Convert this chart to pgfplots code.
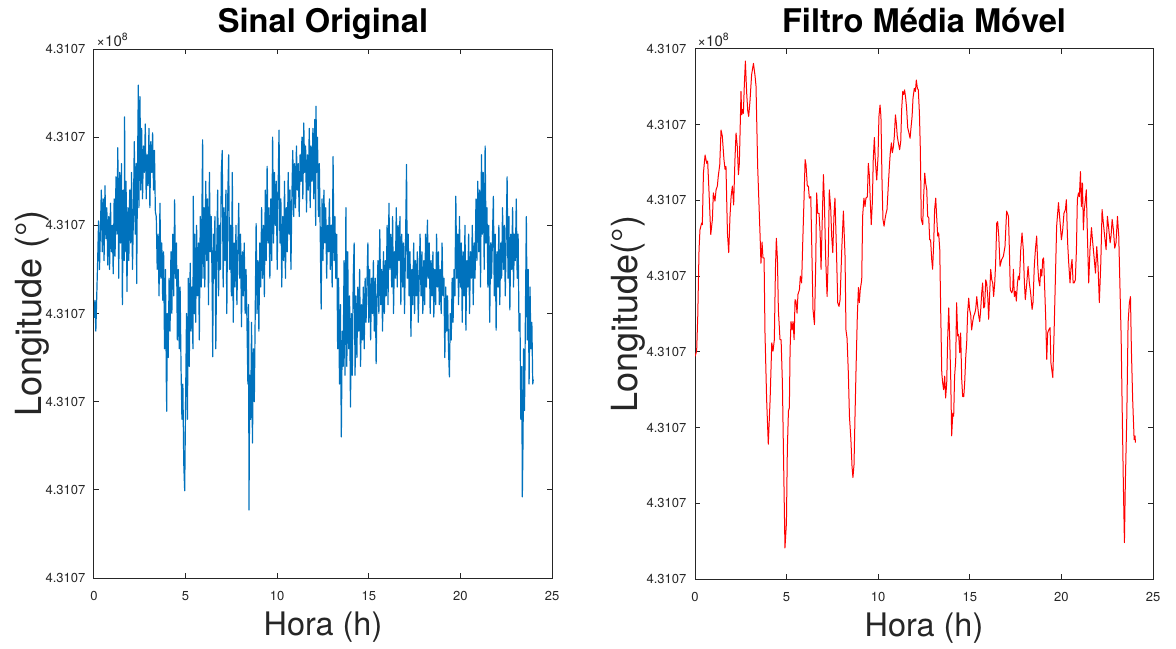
\documentclass[border=0pt]{standalone}
\usepackage{fontspec}
\setmainfont{TeX Gyre Heros}
\usepackage{pgfplots}
\pgfplotsset{compat=1.18}
\definecolor{mblue}{HTML}{0072BD}
\definecolor{axgray}{HTML}{262626}

\pgfplotsset{
  mlab/.style={
    scale only axis, width=229pt, height=264.5pt,
    xmin=0, xmax=25, xtick={0,5,10,15,20,25},
    xticklabels={0,5,10,15,20,25},
    axis line style={axgray, line width=0.5pt},
    every tick/.style={axgray, line width=0.5pt},
    major tick length=2.5pt, tick align=inside,
    tick label style={font=\fontsize{6.5}{7.5}\selectfont, text=axgray},
    xticklabel style={yshift=-3.3pt},
    yticklabel style={xshift=-0.8pt},
    xlabel style={font=\fontsize{16.2}{19}\selectfont, text=axgray,
      at={(axis description cs:0.5,-0.093)}, anchor=center},
    ylabel style={font=\fontsize{18}{21}\selectfont, text=axgray, anchor=center},
  }
}

\begin{document}
\begin{tikzpicture}
\path[use as bounding box] (-47pt,-35pt) rectangle (541pt,289pt);

% sinal original
\begin{axis}[mlab, name=left, at={(0pt,0pt)}, anchor=south west,
  ymin=0, ymax=6, ytick={0,1,2,3,4,5,6},
  yticklabels={4.3107,4.3107,4.3107,4.3107,4.3107,4.3107,4.3107},
  xlabel={Hora (h)}, ylabel={Longitude (°)},
  ylabel style={at={(axis description cs:-0.135,0.5)}},
]
\addplot[mblue, line width=0.6pt, line join=round] coordinates {
(0.00,2.95) (0.05,3.15) (0.10,2.80) (0.15,3.20) (0.20,3.60) (0.25,4.05) (0.30,3.50) (0.35,3.95)
(0.40,4.40) (0.45,3.70) (0.50,4.30) (0.55,3.60) (0.60,4.45) (0.65,3.85) (0.70,4.20) (0.75,3.55)
(0.80,4.10) (0.85,3.50) (0.90,4.25) (0.95,3.70) (1.00,4.00) (1.05,3.45) (1.10,4.30) (1.15,3.65)
(1.20,4.55) (1.25,3.90) (1.30,4.88) (1.35,3.40) (1.40,4.60) (1.45,3.80) (1.50,4.70) (1.55,3.10)
(1.60,4.40) (1.65,3.60) (1.67,5.23) (1.70,3.70) (1.75,4.50) (1.80,3.25) (1.85,4.20) (1.90,3.60)
(1.95,4.40) (2.00,3.80) (2.05,4.60) (2.10,3.50) (2.15,4.10) (2.20,4.95) (2.25,3.90) (2.30,4.70)
(2.33,3.34) (2.37,4.50) (2.42,5.59) (2.45,4.20) (2.51,5.46) (2.55,4.40) (2.60,5.10) (2.65,4.30)
(2.70,4.90) (2.75,4.60) (2.80,5.15) (2.85,4.30) (2.90,4.80) (2.95,4.45) (3.00,5.10) (3.05,4.20)
(3.10,4.95) (3.15,4.60) (3.20,5.05) (3.25,4.40) (3.30,4.85) (3.35,4.15) (3.40,4.10) (3.45,3.50)
(3.50,3.90) (3.55,3.20) (3.60,4.25) (3.65,3.40) (3.70,3.80) (3.75,3.15) (3.80,3.70) (3.85,2.60)
(3.90,3.50) (3.95,2.20) (3.97,1.89) (4.00,3.00) (4.05,2.50) (4.10,3.40) (4.15,2.80) (4.20,3.70)
(4.25,3.00) (4.30,3.90) (4.35,3.20) (4.40,4.29) (4.45,3.40) (4.50,3.80) (4.55,2.70) (4.60,3.50)
(4.65,2.60) (4.70,3.30) (4.75,2.40) (4.80,1.80) (4.85,2.20) (4.90,1.30) (4.95,0.99) (5.00,2.00)
(5.05,3.00) (5.10,1.80) (5.15,3.40) (5.20,2.40) (5.25,3.57) (5.30,2.80) (5.35,3.30) (5.40,2.60)
(5.42,4.33) (5.47,3.00) (5.50,3.90) (5.55,2.90) (5.60,4.00) (5.65,3.20) (5.70,3.80) (5.75,2.70)
(5.80,4.10) (5.85,3.30) (5.93,4.97) (5.95,3.40) (6.00,4.20) (6.05,3.30) (6.10,4.50) (6.15,3.60)
(6.20,4.30) (6.25,3.10) (6.30,4.60) (6.35,3.70) (6.40,4.10) (6.45,3.30) (6.48,2.51) (6.52,3.90)
(6.55,3.40) (6.60,4.10) (6.65,2.60) (6.70,3.70) (6.75,4.40) (6.80,3.20) (6.85,4.00) (6.90,3.50)
(6.95,4.60) (7.00,4.85) (7.05,3.30) (7.10,4.20) (7.15,3.60) (7.20,4.40) (7.25,3.00) (7.30,4.30)
(7.35,4.80) (7.40,3.50) (7.45,4.00) (7.50,3.20) (7.55,4.60) (7.60,2.90) (7.65,3.80) (7.70,3.30)
(7.75,4.00) (7.80,3.10) (7.85,3.70) (7.90,4.25) (7.95,3.40) (8.00,3.90) (8.05,2.85) (8.10,3.70)
(8.15,3.20) (8.20,3.80) (8.25,3.00) (8.30,3.50) (8.35,2.90) (8.40,2.20) (8.44,3.10) (8.46,0.77)
(8.50,2.30) (8.55,1.80) (8.60,2.90) (8.65,1.53) (8.70,2.60) (8.75,2.00) (8.80,3.00) (8.85,4.02)
(8.90,3.00) (8.95,3.60) (9.00,2.80) (9.05,3.80) (9.10,3.30) (9.15,4.20) (9.20,3.40) (9.25,4.00)
(9.30,3.19) (9.35,4.40) (9.40,3.60) (9.45,4.67) (9.50,3.80) (9.55,4.20) (9.60,3.40) (9.65,4.30)
(9.70,3.60) (9.75,5.00) (9.80,3.80) (9.85,4.60) (9.90,4.00) (9.95,4.50) (10.00,3.50) (10.05,4.40)
(10.10,5.08) (10.15,3.80) (10.20,4.30) (10.25,3.30) (10.30,4.10) (10.35,3.60) (10.40,4.50) (10.45,3.40)
(10.50,4.20) (10.55,3.70) (10.60,4.60) (10.65,3.90) (10.70,4.40) (10.75,3.50) (10.80,4.30) (10.85,4.85)
(10.90,4.10) (10.95,4.70) (11.00,4.20) (11.05,4.90) (11.10,4.40) (11.15,4.70) (11.20,4.10) (11.25,4.80)
(11.30,4.50) (11.35,5.00) (11.40,4.30) (11.45,5.16) (11.50,4.60) (11.55,4.90) (11.60,4.15) (11.65,4.80)
(11.70,4.40) (11.75,5.10) (11.80,4.20) (11.85,4.90) (11.90,4.50) (11.95,5.10) (12.00,4.30) (12.05,5.20)
(12.10,4.00) (12.12,5.35) (12.15,4.60) (12.20,5.00) (12.25,4.10) (12.30,4.70) (12.35,3.90) (12.40,3.05)
(12.45,4.30) (12.50,3.60) (12.55,4.40) (12.60,3.80) (12.65,4.20) (12.70,3.40) (12.75,4.00) (12.80,3.70)
(12.85,4.30) (12.90,3.50) (12.95,4.00) (13.00,3.30) (13.05,4.78) (13.10,3.60) (13.15,4.10) (13.20,3.40)
(13.25,3.90) (13.30,2.60) (13.35,3.40) (13.40,2.20) (13.45,3.10) (13.50,1.60) (13.55,2.80) (13.60,2.40)
(13.65,3.60) (13.70,2.30) (13.75,4.20) (13.80,2.40) (13.85,3.70) (13.90,2.60) (13.95,3.20) (14.00,1.94)
(14.05,3.00) (14.10,2.30) (14.15,3.40) (14.20,3.80) (14.25,2.30) (14.30,3.20) (14.35,2.50) (14.40,3.30)
(14.45,2.80) (14.50,3.50) (14.55,2.40) (14.60,3.10) (14.65,2.70) (14.70,3.30) (14.75,2.60) (14.80,3.40)
(14.85,2.90) (14.95,3.80) (15.00,2.90) (15.05,3.50) (15.10,2.70) (15.15,3.40) (15.20,3.00) (15.25,3.60)
(15.30,2.80) (15.35,3.40) (15.40,2.43) (15.45,3.20) (15.50,3.60) (15.55,3.00) (15.60,3.95) (15.65,3.10)
(15.70,3.50) (15.75,2.80) (15.80,3.70) (15.85,3.00) (15.90,3.60) (15.95,3.20) (16.00,4.00) (16.05,3.10)
(16.10,4.25) (16.15,3.50) (16.20,3.90) (16.25,3.30) (16.30,4.10) (16.35,3.00) (16.40,3.70) (16.45,3.40)
(16.50,4.20) (16.55,3.30) (16.60,4.00) (16.65,3.60) (16.70,4.10) (16.75,3.10) (16.80,3.90) (16.85,3.30)
(16.90,3.80) (16.95,3.00) (17.00,3.70) (17.06,4.69) (17.10,3.40) (17.15,3.90) (17.20,3.20) (17.25,3.70)
(17.30,2.74) (17.35,3.50) (17.40,3.10) (17.45,3.80) (17.50,3.00) (17.55,3.60) (17.60,3.20) (17.65,3.70)
(17.70,2.90) (17.75,3.40) (17.80,3.90) (17.85,3.20) (17.90,3.70) (17.95,3.00) (18.00,3.60) (18.05,3.10)
(18.10,3.90) (18.15,3.30) (18.20,4.06) (18.25,3.40) (18.30,3.80) (18.35,3.00) (18.40,3.60) (18.45,3.20)
(18.50,3.70) (18.55,2.96) (18.60,3.50) (18.65,3.10) (18.70,3.90) (18.75,3.30) (18.80,3.70) (18.85,3.10)
(18.90,3.50) (18.95,3.00) (19.00,3.80) (19.05,3.20) (19.10,3.40) (19.15,2.50) (19.20,3.30) (19.25,2.80)
(19.30,3.20) (19.35,2.60) (19.40,2.28) (19.45,3.00) (19.50,2.70) (19.55,3.40) (19.60,2.90) (19.65,3.50)
(19.70,3.20) (19.75,4.33) (19.80,3.40) (19.85,3.90) (19.90,3.10) (19.95,4.10) (20.00,3.30) (20.05,3.80)
(20.10,2.90) (20.15,3.70) (20.20,3.20) (20.25,4.00) (20.30,2.81) (20.35,3.60) (20.40,3.30) (20.45,3.90)
(20.50,3.00) (20.55,3.70) (20.60,3.40) (20.65,4.00) (20.70,3.10) (20.75,3.80) (20.80,3.40) (20.85,4.30)
(20.90,3.60) (20.95,4.50) (21.00,3.70) (21.05,4.40) (21.10,3.30) (21.15,4.80) (21.20,3.90) (21.25,4.60)
(21.30,3.50) (21.35,4.90) (21.40,3.80) (21.45,4.20) (21.50,3.30) (21.55,4.00) (21.60,2.90) (21.65,3.80)
(21.70,3.40) (21.80,4.33) (21.85,3.20) (21.90,3.90) (21.95,2.81) (22.00,3.70) (22.05,3.30) (22.10,4.00)
(22.15,3.10) (22.20,3.80) (22.25,3.40) (22.30,4.20) (22.35,3.50) (22.40,4.00) (22.45,3.20) (22.55,4.55)
(22.60,3.40) (22.65,4.10) (22.70,3.04) (22.75,3.90) (22.80,3.50) (22.85,4.20) (22.90,3.30) (22.95,3.90)
(23.00,3.60) (23.05,4.30) (23.10,3.40) (23.15,3.90) (23.20,2.80) (23.25,3.00) (23.30,1.80) (23.35,2.40)
(23.38,0.92) (23.42,1.60) (23.45,2.60) (23.50,1.90) (23.55,3.00) (23.60,4.10) (23.65,2.70) (23.70,3.50)
(23.75,2.20) (23.80,3.30) (23.85,2.60) (23.90,2.90) (23.95,2.20) (23.98,2.25)
};
\end{axis}
\node[anchor=south west, inner sep=0pt, font=\fontsize{7.5}{8.5}\selectfont, text=axgray]
  at ([xshift=1pt, yshift=1pt]left.north west) {×10\textsuperscript{8}};
\node[anchor=base, inner sep=0pt, font=\fontsize{16.3}{19}\selectfont\bfseries]
  at ([yshift=8.3pt]left.north) {Sinal Original};

% filtro media movel
\begin{axis}[mlab, name=right, at={(300.5pt,-0.5pt)}, anchor=south west,
  height=265pt,
  ymin=0, ymax=7, ytick={0,1,2,3,4,5,6,7},
  yticklabels={4.3107,4.3107,4.3107,4.3107,4.3107,4.3107,4.3107,4.3107},
  xlabel={Hora (h)}, ylabel={Longitude(°)},
  ylabel style={at={(axis description cs:-0.146,0.5)}},
]
\addplot[red, line width=0.5pt, line join=round] coordinates {
(0.00,2.94) (0.09,3.01) (0.15,3.47) (0.22,4.35) (0.27,4.61) (0.36,4.70) (0.40,4.68) (0.46,5.36)
(0.55,5.60) (0.64,5.49) (0.69,5.52) (0.76,5.14) (0.86,4.55) (0.95,4.75) (1.00,5.10) (1.09,4.99)
(1.15,5.14) (1.22,5.19) (1.27,5.32) (1.35,5.47) (1.42,5.93) (1.49,5.85) (1.58,5.54) (1.64,5.41)
(1.69,5.45) (1.77,4.57) (1.84,4.31) (1.91,4.79) (1.97,5.05) (2.04,5.19) (2.11,4.94) (2.18,5.54)
(2.24,5.89) (2.31,5.71) (2.37,5.34) (2.42,5.49) (2.48,6.11) (2.51,6.44) (2.55,6.13) (2.60,6.20)
(2.64,6.15) (2.69,6.51) (2.75,6.84) (2.82,6.42) (2.88,6.18) (2.93,6.11) (3.00,6.31) (3.09,6.66)
(3.19,6.81) (3.28,6.64) (3.33,6.51) (3.42,5.45) (3.55,4.55) (3.60,4.17) (3.66,4.45) (3.71,4.24)
(3.77,4.24) (3.82,3.25) (3.91,2.37) (4.00,1.78) (4.10,2.37) (4.19,3.12) (4.26,3.01) (4.33,3.16)
(4.39,4.09) (4.44,4.50) (4.50,4.22) (4.55,3.56) (4.64,3.16) (4.70,3.16) (4.77,2.59) (4.84,1.49)
(4.91,0.41) (4.99,0.74) (5.04,1.71) (5.10,2.22) (5.15,2.26) (5.19,3.03) (5.24,3.40) (5.30,3.29)
(5.35,3.40) (5.41,3.16) (5.46,3.69) (5.51,3.67) (5.57,3.51) (5.62,3.76) (5.70,3.82) (5.75,4.00)
(5.82,3.91) (5.88,4.44) (5.95,5.01) (6.01,5.54) (6.06,5.47) (6.13,5.19) (6.19,5.19) (6.24,5.03)
(6.32,5.05) (6.37,4.44) (6.44,3.56) (6.52,3.36) (6.59,4.17) (6.64,5.10) (6.70,4.83) (6.77,4.83)
(6.83,4.57) (6.88,4.09) (6.95,4.79) (7.01,5.34) (7.06,5.01) (7.13,4.26) (7.21,3.73) (7.28,4.31)
(7.33,5.14) (7.41,4.88) (7.46,4.53) (7.52,4.31) (7.59,4.83) (7.64,5.03) (7.72,4.35) (7.79,3.65)
(7.86,3.60) (7.92,3.69) (8.01,4.35) (8.10,4.86) (8.19,4.26) (8.24,3.29) (8.30,3.18) (8.37,2.72)
(8.43,2.15) (8.51,1.84) (8.57,1.49) (8.62,1.34) (8.68,1.51) (8.73,2.11) (8.79,2.77) (8.86,3.47)
(8.92,3.85) (8.97,3.65) (9.02,3.82) (9.10,3.95) (9.15,4.79) (9.22,5.03) (9.28,4.92) (9.33,5.03)
(9.41,5.05) (9.46,5.49) (9.52,5.32) (9.57,4.97) (9.62,4.68) (9.68,4.97) (9.73,5.54) (9.79,5.83)
(9.84,5.54) (9.92,5.27) (9.99,5.58) (10.04,6.11) (10.10,6.26) (10.15,6.11) (10.21,5.23) (10.26,4.75)
(10.32,4.66) (10.37,4.75) (10.43,4.83) (10.48,4.88) (10.55,5.19) (10.61,5.45) (10.66,5.63) (10.72,5.76)
(10.77,5.63) (10.83,5.71) (10.88,5.85) (10.94,6.13) (10.99,6.02) (11.04,5.85) (11.10,5.76) (11.17,5.67)
(11.23,5.78) (11.28,6.20) (11.34,6.44) (11.39,6.40) (11.44,6.46) (11.50,6.35) (11.55,6.22) (11.61,5.96)
(11.66,5.91) (11.74,5.82) (11.79,5.96) (11.85,6.11) (11.90,6.35) (11.97,6.48) (12.03,6.44) (12.08,6.59)
(12.14,6.48) (12.19,6.46) (12.25,6.15) (12.30,5.67) (12.35,4.75) (12.43,4.68) (12.48,5.05) (12.54,5.36)
(12.59,5.23) (12.65,5.14) (12.70,4.79) (12.76,4.77) (12.81,4.48) (12.86,4.48) (12.92,4.22) (12.97,4.09)
(13.03,4.44) (13.08,4.88) (13.14,5.03) (13.19,4.79) (13.25,4.53) (13.30,4.57) (13.36,4.35) (13.41,3.56)
(13.47,2.72) (13.52,2.59) (13.57,2.50) (13.63,2.68) (13.68,2.39) (13.74,2.59) (13.79,3.16) (13.85,3.58)
(13.90,3.21) (13.96,2.63) (14.01,1.89) (14.07,2.19) (14.12,2.15) (14.17,2.68) (14.23,2.88) (14.28,3.65)
(14.34,3.21) (14.39,3.23) (14.45,2.99) (14.50,3.25) (14.56,2.63) (14.61,2.41) (14.67,2.41) (14.72,2.59)
(14.78,2.94) (14.83,3.12) (14.88,3.51) (14.94,3.71) (14.99,3.56) (15.05,3.49) (15.10,3.29) (15.16,3.40)
(15.21,3.47) (15.27,3.51) (15.32,3.56) (15.38,3.73) (15.43,3.60) (15.49,3.47) (15.54,3.40) (15.59,3.54)
(15.65,3.78) (15.70,3.91) (15.76,3.58) (15.81,3.60) (15.87,3.95) (15.92,3.91) (15.98,3.73) (16.03,3.43)
(16.09,3.80) (16.14,4.09) (16.20,3.95) (16.25,3.91) (16.30,3.73) (16.36,3.91) (16.41,4.17) (16.47,4.70)
(16.52,4.72) (16.58,4.53) (16.65,4.13) (16.74,4.22) (16.83,4.26) (16.92,4.39) (17.01,4.86) (17.11,4.79)
(17.16,4.35) (17.21,3.82) (17.29,3.78) (17.34,3.82) (17.38,4.09) (17.43,3.73) (17.49,3.80) (17.54,3.67)
(17.60,3.91) (17.65,4.00) (17.71,3.95) (17.78,4.35) (17.85,4.57) (17.92,4.35) (17.98,3.91) (18.03,3.69)
(18.11,3.91) (18.18,4.13) (18.25,3.91) (18.32,3.78) (18.40,3.56) (18.45,3.65) (18.52,4.13) (18.58,4.35)
(18.65,4.53) (18.71,4.13) (18.76,3.95) (18.82,3.87) (18.87,4.09) (18.93,4.00) (18.98,4.22) (19.03,4.24)
(19.09,3.82) (19.14,3.47) (19.20,2.90) (19.25,3.25) (19.31,3.29) (19.38,3.32) (19.43,2.85) (19.53,2.66)
(19.60,3.25) (19.67,3.95) (19.74,4.66) (19.84,4.97) (19.93,4.70) (20.00,4.48) (20.07,4.61) (20.14,4.83)
(20.22,4.88) (20.27,5.01) (20.34,4.44) (20.40,4.17) (20.47,3.91) (20.53,4.13) (20.58,4.22) (20.64,3.91)
(20.69,3.91) (20.76,3.95) (20.82,4.35) (20.87,5.01) (20.93,5.10) (20.98,5.05) (21.04,5.38) (21.09,4.92)
(21.15,5.23) (21.20,4.61) (21.25,4.88) (21.31,5.01) (21.36,5.14) (21.42,4.53) (21.49,3.91) (21.56,4.35)
(21.64,4.64) (21.71,4.44) (21.78,4.26) (21.86,4.04) (21.93,4.39) (22.00,4.13) (22.07,3.65) (22.15,4.17)
(22.22,4.88) (22.29,4.70) (22.36,4.53) (22.44,4.35) (22.51,4.79) (22.57,4.66) (22.66,4.44) (22.71,4.53)
(22.77,4.75) (22.84,4.61) (22.91,4.37) (22.98,4.44) (23.06,4.79) (23.13,4.53) (23.20,3.82) (23.26,3.21)
(23.31,2.37) (23.38,1.27) (23.44,0.48) (23.49,1.27) (23.57,2.15) (23.64,3.38) (23.71,3.65) (23.77,3.73)
(23.82,3.03) (23.89,2.37) (23.97,1.84) (24.02,1.89) (24.04,1.80)
};
\end{axis}
\node[anchor=south west, inner sep=0pt, font=\fontsize{7.5}{8.5}\selectfont, text=axgray]
  at ([xshift=1pt, yshift=1pt]right.north west) {×10\textsuperscript{8}};
\node[anchor=base, inner sep=0pt, font=\fontsize{16.3}{19}\selectfont\bfseries]
  at ([yshift=8.3pt]right.north) {Filtro Média Móvel};
\end{tikzpicture}
\end{document}
